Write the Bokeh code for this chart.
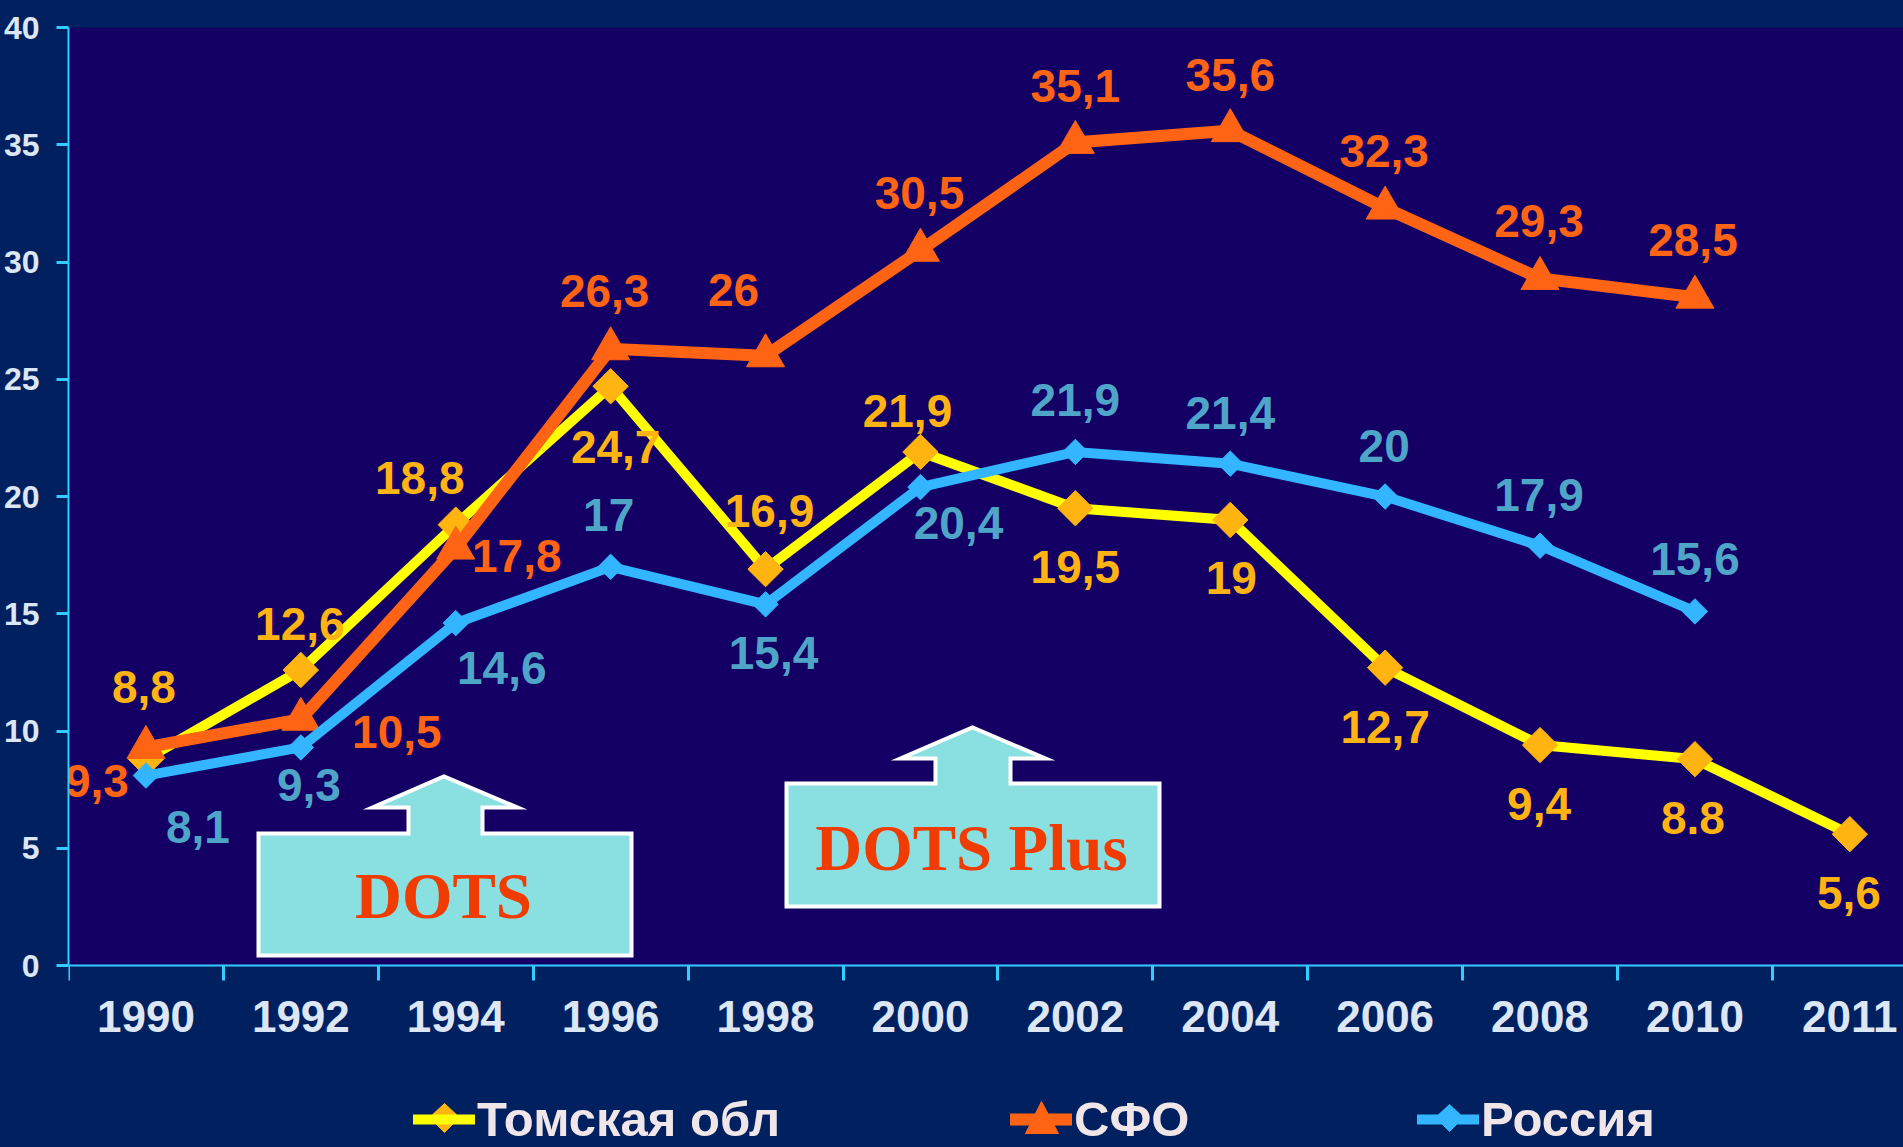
import math
from bokeh.plotting import figure
from bokeh.embed import file_html
from bokeh.resources import INLINE
from bokeh.models import (BoxAnnotation, ColumnDataSource, FixedTicker, Label, Legend, LegendItem,
                          LinearAxis, PolyAnnotation, Range1d)
from bokeh.core.properties import value

years = ["1990","1992","1994","1996","1998","2000","2002","2004","2006","2008","2010","2011"]
y_ticks = [0, 5, 10, 15, 20, 25, 30, 35, 40]

tomsk = [8.8,12.6,18.8,24.7,16.9,21.9,19.5,19.0,12.7,9.4,8.8,5.6]
sfo = [9.3,10.5,17.8,26.3,26.0,30.5,35.1,35.6,32.3,29.3,28.5]
russia = [8.1,9.3,14.6,17.0,15.4,20.4,21.9,21.4,20.0,17.9,15.1]

tomsk_labels = ["8,8","12,6","18,8","24,7","16,9","21,9","19,5","19","12,7","9,4","8.8","5,6"]
sfo_labels = ["9,3","10,5","17,8","26,3","26","30,5","35,1","35,6","32,3","29,3","28,5"]
russia_labels = ["8,1","9,3","14,6","17","15,4","20,4","21,9","21,4","20","17,9","15,6"]

# label offsets from their points, in pixels
tomsk_dx = [-2,-1,-36,5,4,-13,0,1,0,-1,-2,-1]
tomsk_dy = [-72,-46,-47,61,-58,-41,59,58,59,59,59,59]
sfo_dx = [-49,96,61,-6,-32,-1,0,0,-1,-1,-2]
sfo_dy = [34,13,8,-58,-66,-57,-56,-56,-57,-57,-57]
russia_dx = [52,8,46,-2,8,38,0,0,-1,-1,0]
russia_dy = [51,38,45,-52,49,36,-52,-51,-51,-51,-52]

OUTER = "#00205f"
PANEL = "#140064"
AXIS = "#33ccff"
TICK_TXT = "#dce6f5"
LEG_TXT = "#f0e6ea"
SANS = "Liberation Sans"
SERIF = "Liberation Serif"
TOMSK_LINE, TOMSK_MARK = "#ffff00", "#ffb40f"
SFO_COL = "#ff6414"
RUS_COL = "#33b5ff"

W, H = 1903, 1147
L, T, B = 68, 27, 965
UNIT = 154.9
Y_UNIT = (B - T) / 40

p = figure(width=W, height=H, output_backend="svg", toolbar_location=None,
           x_range=Range1d(-0.5, -0.5 + (W - L) / UNIT),
           y_range=Range1d(-(H - B) / Y_UNIT, 40),
           x_axis_type=None, y_axis_type=None,
           min_border_left=L, min_border_right=0, min_border_top=T, min_border_bottom=0,
           background_fill_color=OUTER, border_fill_color=OUTER, outline_line_color=None)
p.styles = {"position": "absolute", "left": "0px", "top": "0px", "background-color": OUTER}
p.grid.visible = False

p.add_layout(BoxAnnotation(bottom=0, top=40, fill_color=PANEL, fill_alpha=1,
                           line_color=None, level="underlay"))

xa = LinearAxis(ticker=FixedTicker(ticks=list(range(12)),
                                   minor_ticks=[i - 0.5 for i in range(13)]),
                major_label_overrides={i: y for i, y in enumerate(years)},
                fixed_location=0)
xa.major_tick_out = 0
xa.major_tick_in = 0
xa.minor_tick_out = 15
xa.minor_tick_in = 0
xa.minor_tick_line_color = AXIS
xa.minor_tick_line_width = 3
xa.axis_line_color = AXIS
xa.axis_line_width = 2
xa.major_label_standoff = 20
xa.major_label_text_font = SANS
xa.major_label_text_font_style = "bold"
xa.major_label_text_font_size = "44px"
xa.major_label_text_color = TICK_TXT
p.add_layout(xa, "below")

ya = LinearAxis(ticker=FixedTicker(ticks=y_ticks), bounds=(0, 40))
ya.major_tick_out = 12
ya.major_tick_in = 0
ya.major_tick_line_color = AXIS
ya.major_tick_line_width = 3
ya.minor_tick_line_color = None
ya.axis_line_color = AXIS
ya.axis_line_width = 2
ya.major_label_standoff = 17
ya.major_label_text_font = SANS
ya.major_label_text_font_style = "bold"
ya.major_label_text_font_size = "32px"
ya.major_label_text_color = TICK_TXT
p.add_layout(ya, "left")

def poly(xs, ys, fill="#8adfe0", line="white", lw=4):
    p.add_layout(PolyAnnotation(xs=xs, ys=ys, xs_units="canvas", ys_units="canvas",
                                fill_color=fill, fill_alpha=1,
                                line_color=line, line_width=lw, line_alpha=1, line_join="miter"))

poly([258,408,408,372,443.5,517,482,482,631,631,258], [833,833,807,807,776,807,807,833,833,955,955])
poly([786,935,935,900,972,1045,1010,1010,1159,1159,786], [783,783,758,758,727,758,758,783,783,906,906])
for txt, cx, cy, size in [("DOTS", 443, 895, "65px"), ("DOTS Plus", 971, 847, "65px")]:
    p.add_layout(Label(x=cx, y=cy, x_units="canvas", y_units="canvas", text=txt,
                       text_font=SERIF, text_font_style="bold", text_font_size=size,
                       text_color="#f03c00", text_align="center", text_baseline="middle"))

def series(vals, line_color, line_w, marker, msize, angle, mcolor):
    src = ColumnDataSource(dict(x=list(range(len(vals))), y=vals))
    ln = p.line("x", "y", source=src, line_color=line_color, line_width=line_w,
                line_join="miter", line_cap="round")
    p.scatter("x", "y", source=src, marker=marker, size=msize, angle=angle,
              fill_color=mcolor, line_color=mcolor)
    return ln

r_t = series(tomsk, TOMSK_LINE, 10, "square", 25, math.pi / 4, TOMSK_MARK)
r_s = series(sfo, SFO_COL, 12, "triangle", 38, 0, SFO_COL)
r_r = series(russia, RUS_COL, 10, "square", 18, math.pi / 4, RUS_COL)

def labels(vals, texts, dx, dy, color):
    src = ColumnDataSource(dict(x=list(range(len(vals))), y=vals, t=texts, dx=dx, dy=dy))
    p.text("x", "y", text="t", source=src, x_offset="dx", y_offset="dy",
           text_align="center", text_baseline="middle", text_color=color,
           text_font=value(SANS), text_font_style="bold", text_font_size="46px")

labels(tomsk, tomsk_labels, tomsk_dx, tomsk_dy, "#ffb414")
labels(sfo, sfo_labels, sfo_dx, sfo_dy, SFO_COL)
labels(russia, russia_labels, russia_dx, russia_dy, "#4fa5c8")

def legend(name, rend, left):
    leg = Legend(items=[LegendItem(label=value(name), renderers=[rend])],
                 location=(left - L, 0), orientation="horizontal",
                 background_fill_alpha=0, border_line_color=None,
                 padding=0, margin=0, spacing=0, label_standoff=2,
                 glyph_width=62, glyph_height=50, label_height=50,
                 label_text_font=SANS, label_text_font_style="bold",
                 label_text_font_size="49px", label_text_color=LEG_TXT)
    p.add_layout(leg, "center")

legend("Томская обл", r_t, 413)
legend("СФО", r_s, 1010)
legend("Россия", r_r, 1417)

# legend key markers, larger than Bokeh's own legend keys
poly([444,459,444,429], [1103,1117,1132,1117], TOMSK_MARK, TOMSK_MARK, 1)
poly([1025,1041,1058], [1133,1101,1133], SFO_COL, SFO_COL, 1)
poly([1449,1463,1449,1435], [1104,1117,1131,1117], RUS_COL, RUS_COL, 1)

open("out.html", "w").write(file_html(p, INLINE))
